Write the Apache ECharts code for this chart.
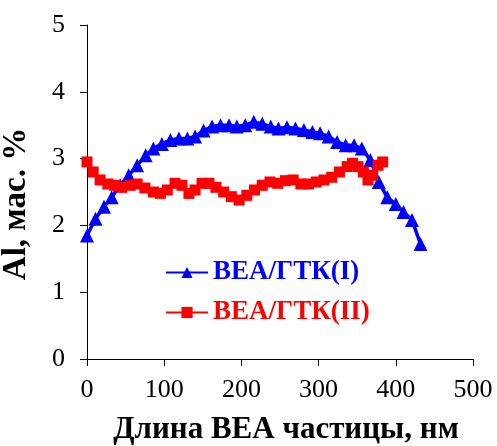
<!DOCTYPE html>
<html><head><meta charset="utf-8">
<script src="https://cdn.jsdelivr.net/npm/echarts@6/dist/echarts.min.js"></script>
<style>html,body{margin:0;padding:0;background:#fff}#c{width:497px;height:446px}</style>
</head><body><div id="c"></div>
<script>
var seriesNames = ['ВЕА/ГТК(I)', 'ВЕА/ГТК(II)'];
var xTitle = 'Длина ВЕА частицы, нм';
var yTitle = 'Al, мас. %';
var blueX = [0,11,22,32,43,54,65,76,86,97,108,119,130,140,151,162,173,184,194,205,216,227,238,248,259,270,281,292,302,313,324,335,346,356,367,378,389,400,410,421,432];
var blueY = [1.85,2.1,2.28,2.42,2.6,2.75,2.9,3.05,3.15,3.22,3.28,3.3,3.3,3.33,3.42,3.48,3.5,3.5,3.48,3.5,3.55,3.52,3.48,3.45,3.47,3.45,3.43,3.4,3.38,3.33,3.25,3.2,3.2,3.15,2.98,2.65,2.42,2.32,2.2,2.08,1.72];
var redX = [0,8,17,27,36,45,56,65,75,86,95,104,114,123,132,140,149,158,167,177,187,197,207,217,227,237,247,257,267,277,287,297,307,317,327,337,344,351,358,364,370,377,383];
var redY = [2.95,2.8,2.68,2.62,2.6,2.57,2.6,2.62,2.56,2.5,2.48,2.53,2.63,2.6,2.48,2.53,2.63,2.63,2.57,2.5,2.43,2.38,2.45,2.53,2.6,2.65,2.63,2.67,2.68,2.62,2.62,2.65,2.68,2.72,2.8,2.88,2.93,2.88,2.8,2.68,2.75,2.9,2.95];
var xTicks = [0,100,200,300,400,500];
var yTicks = [0,1,2,3,4,5];

function pairs(xs, ys){ return xs.map(function(x,i){ return [x, ys[i]]; }); }
var FONT = 'Liberation Serif';
var chart = echarts.init(document.getElementById('c'), null, {renderer:'canvas'});
chart.setOption({
  animation: false,
  backgroundColor: '#fff',
  grid: {left: 87, right: 24, top: 25, bottom: 87, containLabel: false, outerBoundsMode: 'none'},
  xAxis: {
    type: 'value', min: xTicks[0], max: xTicks[xTicks.length-1], interval: 100,
    name: xTitle, nameLocation: 'middle', nameGap: 55,
    nameTextStyle: {fontFamily: FONT, fontWeight: 'bold', fontSize: 31, color: '#000', padding: [0, 0, 0, 12]},
    axisLine: {onZero: false, lineStyle: {color: '#000', width: 1}},
    axisTick: {show: true, inside: false, length: 7, lineStyle: {color: '#000'}},
    axisLabel: {fontFamily: FONT, fontSize: 26, color: '#000', margin: 18},
    splitLine: {show: false}
  },
  yAxis: {
    type: 'value', min: yTicks[0], max: yTicks[yTicks.length-1], interval: 1,
    name: yTitle, nameLocation: 'middle', nameGap: 54, nameRotate: 90,
    nameTextStyle: {fontFamily: FONT, fontWeight: 'bold', fontSize: 33, color: '#000', padding: [0, 24, 0, 0]},
    axisLine: {show: true, lineStyle: {color: '#000', width: 1}},
    axisTick: {show: true, inside: false, length: 7, lineStyle: {color: '#000'}},
    axisLabel: {fontFamily: FONT, fontSize: 26, color: '#000', margin: 22},
    splitLine: {show: false}
  },
  legend: {
    orient: 'vertical', left: 160, top: 254, itemGap: 13, itemWidth: 42, itemHeight: 14,
    textStyle: {fontFamily: FONT, fontWeight: 'bold', fontSize: 27},
    data: [
      {name: seriesNames[0], textStyle: {color: '#0000ff'}},
      {name: seriesNames[1], textStyle: {color: '#ff0000'}}
    ]
  },
  series: [
    {name: seriesNames[0], type: 'line', data: pairs(blueX, blueY),
     symbol: 'triangle', symbolSize: 14, color: '#0000ff',
     lineStyle: {width: 3.5, color: '#0000ff'}, itemStyle: {color: '#0000ff'}},
    {name: seriesNames[1], type: 'line', data: pairs(redX, redY),
     symbol: 'rect', symbolSize: 11, color: '#ff0000',
     lineStyle: {width: 3.5, color: '#ff0000'}, itemStyle: {color: '#ff0000'}}
  ]
});
</script></body></html>
